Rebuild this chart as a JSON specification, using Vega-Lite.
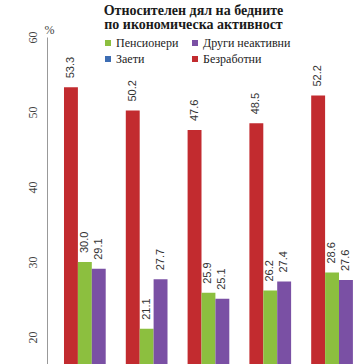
{
  "$schema": "https://vega.github.io/schema/vega-lite/v6.json",
  "width": 309,
  "height": 327,
  "autosize": {"type": "none"},
  "padding": {"left": 47, "top": 37, "right": 0, "bottom": 0},
  "background": "white",
  "config": {"view": {"stroke": null}},
  "title": {
    "text": ["Относителен дял на бедните", "по икономическа активност"],
    "font": "'Times New Roman', 'Liberation Serif', serif",
    "fontSize": 14,
    "fontWeight": "bold",
    "color": "#1a1a1a",
    "anchor": "middle",
    "dx": -8,
    "dy": 9,
    "offset": 0,
    "lineHeight": 14
  },
  "data": {
    "values": [
      {"g": "1", "s": "Безработни", "v": 53.3},
      {"g": "1", "s": "Пенсионери", "v": 30.0},
      {"g": "1", "s": "Други неактивни", "v": 29.1},
      {"g": "2", "s": "Безработни", "v": 50.2},
      {"g": "2", "s": "Пенсионери", "v": 21.1},
      {"g": "2", "s": "Други неактивни", "v": 27.7},
      {"g": "3", "s": "Безработни", "v": 47.6},
      {"g": "3", "s": "Пенсионери", "v": 25.9},
      {"g": "3", "s": "Други неактивни", "v": 25.1},
      {"g": "4", "s": "Безработни", "v": 48.5},
      {"g": "4", "s": "Пенсионери", "v": 26.2},
      {"g": "4", "s": "Други неактивни", "v": 27.4},
      {"g": "5", "s": "Безработни", "v": 52.2},
      {"g": "5", "s": "Пенсионери", "v": 28.6},
      {"g": "5", "s": "Други неактивни", "v": 27.6}
    ]
  },
  "encoding": {
    "x": {"field": "g", "type": "nominal", "axis": null, "scale": {"paddingInner": 0.1, "paddingOuter": 0.05}},
    "xOffset": {"field": "s", "type": "nominal", "scale": {"domain": ["Заети", "Безработни", "Пенсионери", "Други неактивни"], "paddingInner": 0, "paddingOuter": 0}},
    "y": {
      "field": "v",
      "type": "quantitative",
      "scale": {"domain": [16.4, 60], "zero": false, "nice": false},
      "axis": {
        "values": [20, 30, 40, 50, 60],
        "grid": false,
        "ticks": false,
        "labelAngle": 270,
        "labelAlign": "center",
        "labelBaseline": "middle",
        "labelPadding": 15,
        "labelFont": "'Times New Roman', 'Liberation Serif', serif",
        "labelFontSize": 12,
        "labelColor": "#444",
        "domainColor": "#999",
        "title": "%",
        "titleAngle": 0,
        "titleX": 2,
        "titleY": -1,
        "titleAlign": "center",
        "titleBaseline": "bottom",
        "titleFont": "'Times New Roman', 'Liberation Serif', serif",
        "titleFontSize": 12,
        "titleFontWeight": "normal",
        "titleColor": "#444"
      }
    }
  },
  "layer": [
    {
      "mark": {"type": "bar", "clip": true},
      "encoding": {
        "color": {
          "field": "s",
          "type": "nominal",
          "scale": {
            "domain": ["Пенсионери", "Други неактивни", "Заети", "Безработни"],
            "range": ["#8cbf3f", "#7a50a4", "#3d6db3", "#c22b2f"]
          },
          "legend": {
            "orient": "none",
            "legendX": 55,
            "legendY": 0,
            "direction": "horizontal",
            "columns": 2,
            "title": null,
            "symbolType": "square",
            "symbolSize": 36,
            "symbolStrokeWidth": 0,
            "labelFont": "'Times New Roman', 'Liberation Serif', serif",
            "labelFontSize": 12,
            "labelColor": "#222",
            "labelOffset": 2,
            "rowPadding": 4,
            "columnPadding": 10
          }
        }
      }
    },
    {
      "mark": {
        "type": "text",
        "angle": 270,
        "align": "left",
        "baseline": "middle",
        "dx": 9,
        "font": "Liberation Sans",
        "fontSize": 11,
        "color": "#333"
      },
      "encoding": {"text": {"field": "v", "type": "quantitative", "format": ".1f"}}
    }
  ]
}
